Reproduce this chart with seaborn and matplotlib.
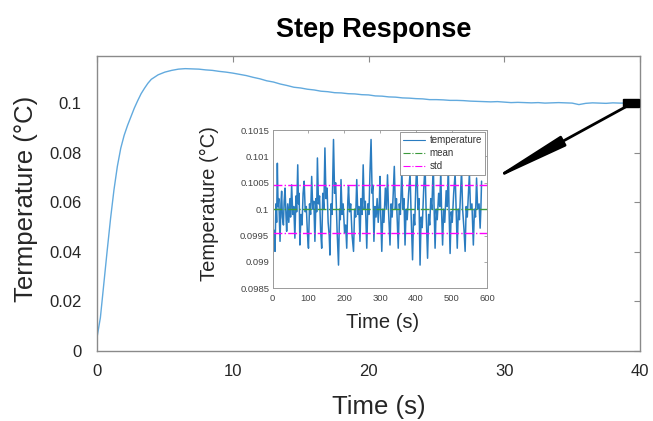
import numpy as np
import pandas as pd
import matplotlib
matplotlib.use("Agg")
import matplotlib.pyplot as plt
from matplotlib import font_manager
from matplotlib.patches import Rectangle
import seaborn as sns

# ---- step response (main axes) ----
step_time = [
    0, 0.25, 0.5, 0.75, 1.0, 1.25, 1.5, 1.75, 2.0, 2.25, 2.5, 2.75, 3.0, 3.25, 3.5, 3.75,
    4.0, 4.5, 5.0, 5.5, 6.0, 6.5, 7.0, 7.5, 8.0, 8.5, 9.0, 9.5, 10.0, 10.5, 11.0, 11.5,
    12.0, 12.5, 13.0, 13.5, 14.0, 14.5, 15.0, 15.5, 16.0, 16.5, 17.0, 17.5, 18.0, 18.5,
    19.0, 19.5, 20.0, 20.5, 21.0, 21.5, 22.0, 22.5, 23.0, 23.5, 24.0, 24.5, 25.0, 25.5,
    26.0, 26.5, 27.0, 27.5, 28.0, 28.5, 29.0, 29.5, 30.0, 30.5, 31.0, 31.5, 32.0, 32.5,
    33.0, 33.5, 34.0, 34.5, 35.0, 35.5, 36.0, 36.5, 37.0, 37.5, 38.0, 38.5, 39.0, 39.5, 40.0,
]
step_temp = [
    0.0054, 0.0135, 0.0270, 0.0405, 0.0535, 0.0650, 0.0745, 0.0818, 0.0870, 0.0910,
    0.0945, 0.0980, 0.1010, 0.1038, 0.1060, 0.1080, 0.1096, 0.1114, 0.1125, 0.1132,
    0.1137, 0.1139, 0.1138, 0.1137, 0.1134, 0.1132, 0.1128, 0.1125, 0.1121, 0.1116,
    0.1111, 0.1104, 0.1098, 0.1090, 0.1085, 0.1077, 0.1071, 0.1064, 0.1061, 0.1056,
    0.1053, 0.1048, 0.1046, 0.1042, 0.1041, 0.1038, 0.1037, 0.1034, 0.1033, 0.1029,
    0.1028, 0.1025, 0.1024, 0.1021, 0.1020, 0.1018, 0.1017, 0.1014, 0.1014, 0.1013,
    0.1011, 0.1011, 0.1010, 0.1008, 0.1007, 0.1006, 0.1005, 0.1006, 0.1004, 0.1002,
    0.1003, 0.1002, 0.1001, 0.1002, 0.1000, 0.1001, 0.1002, 0.1001, 0.1000, 0.0994,
    0.0999, 0.1001, 0.1000, 0.0999, 0.1001, 0.1000, 0.1000, 0.1001, 0.1000,
]
main_xticks = [0, 10, 20, 30, 40]
main_yticks = [0, 0.02, 0.04, 0.06, 0.08, 0.1]
main_ytick_labels = ["0", "0.02", "0.04", "0.06", "0.08", "0.1"]

# zoomed window marked on the step response
zoom_t0, zoom_t1 = 38.75, 39.95
zoom_lo, zoom_hi = 0.0985, 0.1015

# ---- steady-state record (inset axes) ----
ss_time = [
    0, 2, 4, 6.5, 9, 11, 13, 15, 17, 20.5, 23, 25, 27, 30, 32, 34.5, 37, 39, 42, 45,
    48, 50, 53, 56, 59, 62, 65, 67, 70, 72, 74, 76, 79, 82, 85, 88, 91, 94, 97, 100,
    103, 106, 109, 112, 115, 118, 121, 123, 125, 128, 131, 134, 137, 140, 143, 146, 149, 152, 155, 158,
    160, 163, 166, 170, 173, 176, 180, 184, 187, 189, 191, 194, 197, 201, 204, 207, 210, 212, 215, 218,
    222, 226, 229, 232, 235, 238, 241, 244, 247, 250, 253, 256, 259, 263, 266, 269, 272, 275, 278, 280,
    283, 286, 289, 292, 295, 298, 300, 302, 305, 308, 311, 315, 318, 321, 324, 328, 331, 334, 337, 340,
    343, 346, 349, 351, 354, 357, 361, 364, 367, 370, 373, 376, 380, 384, 387, 391, 394, 397, 400, 403,
    406, 409, 412, 415, 418, 422, 426, 429, 433, 436, 439, 442, 445, 449, 451, 454, 457, 460, 464, 467,
    470, 472, 475, 478, 481, 485, 488, 491, 493, 496, 499, 502, 506, 510, 513, 516, 519, 522, 525, 528,
    531, 535, 538, 541, 544, 547, 550, 553, 557, 561, 564, 567, 570, 573, 577, 580, 582, 584,
]
ss_temp = [
    0.09975, 0.09945, 0.09960, 0.09920, 0.10010, 0.09975, 0.10087, 0.10005, 0.10020, 0.09939,
    0.10010, 0.10034, 0.09985, 0.09970, 0.10015, 0.10040, 0.09990, 0.09958, 0.10010, 0.09975,
    0.10020, 0.09985, 0.10046, 0.09990, 0.10005, 0.09945, 0.10025, 0.09995, 0.10084, 0.10010,
    0.10030, 0.09932, 0.09990, 0.09970, 0.10030, 0.10053, 0.09995, 0.10005, 0.09955, 0.09926,
    0.10010, 0.09990, 0.10062, 0.10000, 0.10015, 0.09939, 0.10020, 0.09995, 0.10097, 0.10010,
    0.10025, 0.09960, 0.09926, 0.10030, 0.10000, 0.10116, 0.10020, 0.10040, 0.09975, 0.09950,
    0.09913, 0.10010, 0.09990, 0.10132, 0.10030, 0.10050, 0.09960, 0.09894, 0.10000, 0.09980,
    0.10056, 0.09990, 0.10010, 0.09955, 0.09970, 0.09926, 0.10015, 0.10043, 0.09995, 0.10010,
    0.09950, 0.09920, 0.10000, 0.09985, 0.10056, 0.09990, 0.10005, 0.09939, 0.10020, 0.09990,
    0.10084, 0.10000, 0.10015, 0.09926, 0.10010, 0.09990, 0.10070, 0.10132, 0.10030, 0.10045,
    0.09939, 0.10005, 0.09985, 0.10020, 0.09975, 0.10010, 0.10062, 0.09990, 0.09920, 0.10000,
    0.09975, 0.10040, 0.10000, 0.10065, 0.09995, 0.09932, 0.10010, 0.09985, 0.10030, 0.10081,
    0.10000, 0.10020, 0.09960, 0.09926, 0.10010, 0.09990, 0.10075, 0.10000, 0.10020, 0.09932,
    0.10000, 0.09980, 0.10030, 0.10068, 0.09990, 0.09904, 0.09990, 0.09970, 0.10040, 0.10090,
    0.10000, 0.10020, 0.09894, 0.09985, 0.09965, 0.10035, 0.10084, 0.09995, 0.09907, 0.09990,
    0.09970, 0.10020, 0.10000, 0.10090, 0.10010, 0.09926, 0.10000, 0.09980, 0.10030, 0.10005,
    0.10075, 0.10000, 0.09932, 0.10000, 0.09975, 0.10035, 0.10005, 0.10084, 0.10000, 0.09916,
    0.09995, 0.09975, 0.10030, 0.10068, 0.10000, 0.09926, 0.10000, 0.09980, 0.10030, 0.10075,
    0.10000, 0.09960, 0.09920, 0.10005, 0.09985, 0.10025, 0.10068, 0.10000, 0.10010, 0.09932,
    0.10000, 0.09985, 0.10059, 0.10000, 0.10010, 0.09964, 0.10000, 0.10053,
]
ss_mean = 0.1
ss_std = 0.00046
inset_xticks = [0, 100, 200, 300, 400, 500, 600]
inset_yticks = [0.0985, 0.099, 0.0995, 0.1, 0.1005, 0.101, 0.1015]
inset_ytick_labels = ["0.0985", "0.099", "0.0995", "0.1", "0.1005", "0.101", "0.1015"]

step_df = pd.DataFrame({"time": step_time, "temp": step_temp})
ss_df = pd.DataFrame({"time": ss_time, "temp": ss_temp})

sns.set_style("white")
installed = {f.name for f in font_manager.fontManager.ttflist}
narrow = "Liberation Sans Narrow" if "Liberation Sans Narrow" in installed else "Liberation Sans"
plt.rcParams["font.family"] = ["Liberation Sans", "DejaVu Sans"]

W, H = 653, 421
fig = plt.figure(figsize=(W / 100, H / 100), dpi=100)
fig.patch.set_facecolor("white")

spine_col = "#8a8a8a"
text_col = "#262626"

# main axes
ax = fig.add_axes([97 / W, 1 - 351 / H, (640 - 97) / W, (351 - 56) / H])
sns.lineplot(data=step_df, x="time", y="temp", ax=ax, color="#62aade", linewidth=1.0)
ax.set_xlim(0, 40)
ax.set_ylim(0, 0.119)
ax.set_xticks(main_xticks)
ax.set_xticklabels([str(v) for v in main_xticks])
ax.set_yticks(main_yticks)
ax.set_yticklabels(main_ytick_labels)
ax.set_xlabel("")
ax.set_ylabel("")
for s in ax.spines.values():
    s.set_color(spine_col)
    s.set_linewidth(1.0)
ax.tick_params(direction="in", length=4, width=0.8, color=spine_col,
               top=True, right=True, labelcolor=text_col,
               labelsize=13 if narrow != "Liberation Sans" else 12)
ax.tick_params(axis="y", pad=11)
ax.tick_params(axis="x", pad=9)
for lab in ax.get_xticklabels() + ax.get_yticklabels():
    lab.set_fontfamily([narrow, "DejaVu Sans"])

# marked window and arrow towards the inset
ax.add_patch(Rectangle((zoom_t0, zoom_lo), zoom_t1 - zoom_t0, zoom_hi - zoom_lo,
                       facecolor="black", edgecolor="black", zorder=5, clip_on=False))
ax.annotate("", xy=(28.7, 0.0678), xytext=(zoom_t0 + 0.2, zoom_lo),
            arrowprops=dict(arrowstyle="-|>,head_length=4.8,head_width=0.33",
                            color="black", lw=2.0, shrinkA=0, shrinkB=0),
            zorder=6)

fig.text(374 / W, 1 - 30 / H, "Step Response", ha="center", va="center",
         fontsize=19.5, fontweight="bold", color="black")
fig.text(379 / W, 1 - 407 / H, "Time (s)", ha="center", va="center",
         fontsize=18.5, color=text_col)
fig.text(26 / W, 1 - 199 / H, "Termperature (°C)", ha="center", va="center",
         rotation=90, fontsize=18.5, color=text_col)

# inset axes
axi = fig.add_axes([272.7 / W, 1 - 288.3 / H, (487.3 - 272.7) / W, (288.3 - 130) / H])
axi.set_facecolor("white")
sns.lineplot(data=ss_df, x="time", y="temp", ax=axi, color="#2a7cc0",
             linewidth=1.1, label="temperature")
axi.axhline(ss_mean, color="#3c9a3c", linestyle="-.", linewidth=1.0, label="mean")
axi.axhline(ss_mean + ss_std, color="#ff00ff", linestyle="-.", linewidth=1.0, label="std")
axi.axhline(ss_mean - ss_std, color="#ff00ff", linestyle="-.", linewidth=1.0)
axi.set_xlim(0, 600)
axi.set_ylim(0.0985, 0.1015)
axi.set_xticks(inset_xticks)
axi.set_xticklabels([str(v) for v in inset_xticks])
axi.set_yticks(inset_yticks)
axi.set_yticklabels(inset_ytick_labels)
axi.set_xlabel("")
axi.set_ylabel("")
for s in axi.spines.values():
    s.set_color("#9a9a9a")
    s.set_linewidth(0.7)
axi.tick_params(direction="in", length=2.5, width=0.6, color="#9a9a9a",
                top=True, right=True, labelcolor="#444444", labelsize=6.8)
axi.tick_params(axis="y", pad=2.5)
axi.tick_params(axis="x", pad=4)
leg = axi.legend(loc="upper right", fontsize=7, frameon=True, fancybox=False,
                 edgecolor="#888888", framealpha=1, handlelength=2.2, handletextpad=0.5,
                 borderpad=0.35, labelspacing=0.3, borderaxespad=0.2)
leg.get_frame().set_linewidth(0.6)
for line in leg.get_lines():
    line.set_linewidth(0.8)
for t in leg.get_texts():
    t.set_color("#333333")

fig.text(383 / W, 1 - 322 / H, "Time (s)", ha="center", va="center",
         fontsize=14.5, color=text_col)
fig.text(209 / W, 1 - 204 / H, "Temperature (°C)", ha="center", va="center",
         rotation=90, fontsize=14.5, color=text_col)

fig.savefig("out.png", dpi=100, facecolor="white")
